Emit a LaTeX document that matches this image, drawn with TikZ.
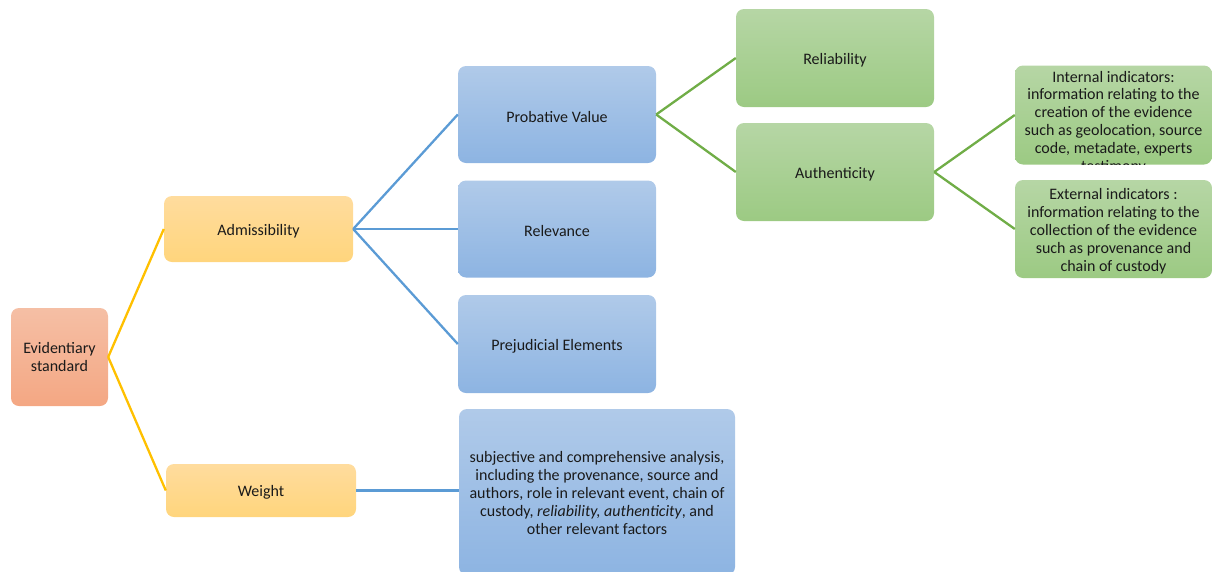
\documentclass[tikz,border=0pt]{standalone}
\usepackage{fontspec}
\setmainfont{Carlito}
\definecolor{salmonTop}{HTML}{F5BFA5}
\definecolor{salmonBot}{HTML}{F4A783}
\definecolor{goldTop}{HTML}{FFDC9E}
\definecolor{goldBot}{HTML}{FFD57C}
\definecolor{blueTop}{HTML}{B0CAE9}
\definecolor{blueBot}{HTML}{8DB4E2}
\definecolor{greenTop}{HTML}{B6D6A5}
\definecolor{greenBot}{HTML}{9CCA83}
\definecolor{goldLine}{HTML}{FFC000}
\definecolor{blueLine}{HTML}{5B9BD5}
\definecolor{greenLine}{HTML}{70AD47}
\definecolor{ink}{HTML}{1A1A1A}
\begin{document}
\begin{tikzpicture}[x=1pt,y=-1pt,
  card/.style={rounded corners=8pt, inner sep=0pt},
  salmoncard/.style={card, top color=salmonTop, bottom color=salmonBot},
  goldcard/.style={card, top color=goldTop, bottom color=goldBot},
  bluecard/.style={card, top color=blueTop, bottom color=blueBot},
  greencard/.style={card, top color=greenTop, bottom color=greenBot},
  label/.style={align=center, inner sep=0pt, text=ink,
    font=\fontsize{16}{17.9}\selectfont},
  goldlink/.style={goldLine, line width=2.3pt},
  bluelink/.style={blueLine, line width=2.3pt},
  greenlink/.style={greenLine, line width=2.3pt}]
\useasboundingbox (0,0) rectangle (1212,571);
\clip (0,0) rectangle (1212,571);

% root
\node[salmoncard, minimum width=97pt, minimum height=98pt] (ev) at (59.5,357) {};
\node[label] (evT) at (ev.center) {Evidentiary\\standard};

% second level
\node[goldcard, minimum width=189pt, minimum height=66pt] (adm) at (258.5,229) {};
\node[label] (admT) at ([yshift=-2pt]adm.center) {Admissibility};
\node[goldcard, minimum width=190pt, minimum height=53pt] (wt) at (261,490.5) {};
\node[label] (wtT) at ([yshift=-2pt]wt.center) {Weight};

% admissibility criteria
\node[bluecard, minimum width=198pt, minimum height=97pt] (pv) at (557,114.5) {};
\node[label] (pvT) at ([yshift=-2pt]pv.center) {Probative Value};
\node[bluecard, minimum width=198pt, minimum height=97pt] (rel) at (557,229) {};
\node[label] (relT) at ([yshift=-2pt]rel.center) {Relevance};
\node[bluecard, minimum width=198pt, minimum height=98pt] (pre) at (557,344) {};
\node[label] (preT) at ([yshift=-2pt]pre.center) {Prejudicial Elements};

% weight description
\node[bluecard, minimum width=276pt, minimum height=166pt] (wtx) at (597,492) {};
\node[label] (wtxT) at ([yshift=-1pt]wtx.center) {subjective and comprehensive analysis,\\
including the provenance, source and\\
authors, role in relevant event, chain of\\
custody, \textit{reliability, authenticity}, and\\
other relevant factors};

% probative value components
\node[greencard, minimum width=198pt, minimum height=98pt] (rlb) at (835,58) {};
\node[label] (rlbT) at ([yshift=-2pt]rlb.center) {Reliability};
\node[greencard, minimum width=198pt, minimum height=98pt] (aut) at (835,172) {};
\node[label] (autT) at ([yshift=-2pt]aut.center) {Authenticity};

% authenticity indicators (the first one overflows its card and is cut)
\node[greencard, minimum width=197pt, minimum height=99pt] (int) at (1113.5,115) {};
\begin{scope}
  \clip[rounded corners=8pt] (int.north west) rectangle (int.south east);
  \node[label] (intT) at (1113.5,122.5) {Internal indicators:\\
information relating to the\\
creation of the evidence\\
such as geolocation, source\\
code, metadate, experts\\
testimony};
\end{scope}
\node[greencard, minimum width=197pt, minimum height=98pt] (ext) at (1113.5,229) {};
\node[label] (extT) at ([yshift=-2.5pt]ext.center) {External indicators :\\
information relating to the\\
collection of the evidence\\
such as provenance and\\
chain of custody};

% connectors
\draw[goldlink] (ev.east) -- (adm.west);
\draw[goldlink] (ev.east) -- (wt.west);
\draw[bluelink] (adm.east) -- (pv.west);
\draw[bluelink] (adm.east) -- (rel.west);
\draw[bluelink] (adm.east) -- (pre.west);
\draw[bluelink] (wt.east) -- (wtx.west |- wt.east);
\draw[greenlink] (pv.east) -- (rlb.west);
\draw[greenlink] (pv.east) -- (aut.west);
\draw[greenlink] (aut.east) -- (int.west);
\draw[greenlink] (aut.east) -- (ext.west);
\end{tikzpicture}
\end{document}
